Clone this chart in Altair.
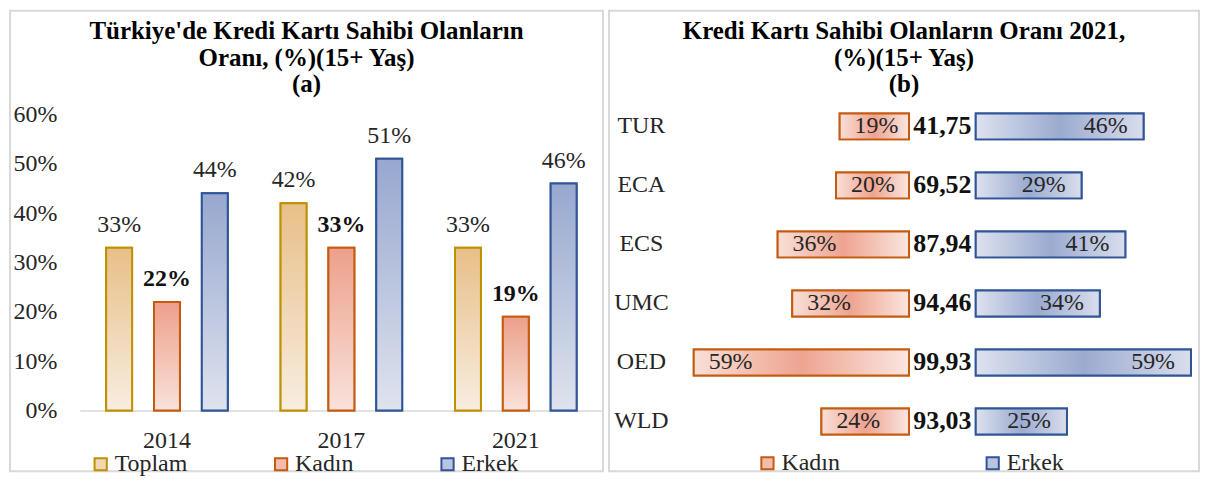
import altair as alt
import pandas as pd

# ---------------- data: panel (a) ----------------
years = ["2014", "2017", "2021"]
series_a = ["Toplam", "Kadın", "Erkek"]
toplam = [0.33, 0.42, 0.33]
kadin = [0.22, 0.33, 0.19]
erkek = [0.44, 0.51, 0.46]
y_ticks = [0, 0.1, 0.2, 0.3, 0.4, 0.5, 0.6]
title_a = ["Türkiye'de Kredi Kartı Sahibi Olanların", "Oranı, (%)(15+ Yaş)", "(a)"]

# ---------------- data: panel (b) ----------------
regions = ["TUR", "ECA", "ECS", "UMC", "OED", "WLD"]
series_b = ["Kadın", "Erkek"]
kadin_b = [19, 20, 36, 32, 59, 24]
erkek_b = [46, 29, 41, 34, 59, 25]
center_b = ["41,75", "69,52", "87,94", "94,46", "99,93", "93,03"]
title_b = ["Kredi Kartı Sahibi Olanların Oranı 2021,", "(%)(15+ Yaş)", "(b)"]

# ---------------- tables ----------------
rows_a = []
for i, y in enumerate(years):
    for s, vals in zip(series_a, [toplam, kadin, erkek]):
        rows_a.append({"year": y, "seri": s, "val": vals[i]})
df_a = pd.DataFrame(rows_a)

rows_b = []
for i, r in enumerate(regions):
    rows_b.append({"region": r, "cins": "Kadın", "value": kadin_b[i]})
    rows_b.append({"region": r, "cins": "Erkek", "value": erkek_b[i]})
df_b = pd.DataFrame(rows_b)
df_c = pd.DataFrame({"region": regions, "center": center_b})

# ---------------- style ----------------
FONT = "Liberation Serif"
TXT = "#262626"
W_A, W_B, H = 595, 592, 462
FS = 24

stroke_a = ["#BF9000", "#C55A11", "#2F5597"]
mid_a = ["#F0D6B2", "#F3BDAE", "#BAC4DF"]
grad_top = ["#E8BF88", "#EDA08A", "#97A7CF"]
grad_bot = ["#F8EDE0", "#F9E2DB", "#DFE3EE"]


def vgrad(top, bot):
    return alt.LinearGradient(
        gradient="linear", x1=0, y1=0, x2=0, y2=1,
        stops=[alt.GradientStop(color=top, offset=0), alt.GradientStop(color=bot, offset=1)],
    )


def hgrad(c0, c1, c2):
    return alt.LinearGradient(
        gradient="linear", x1=0, y1=0, x2=1, y2=0,
        stops=[alt.GradientStop(color=c0, offset=0), alt.GradientStop(color=c1, offset=0.5),
               alt.GradientStop(color=c2, offset=1)],
    )


def panel_title(lines):
    return alt.Title(text=lines, font=FONT, fontSize=25, fontWeight="bold", color="#000000",
                     anchor="middle", frame="group", orient="top", offset=-87, lineHeight=27)


# ---------------- panel (a) ----------------
AX0 = 401  # pixel row of the 0% baseline inside the panel
x_a = alt.X(
    "year:N", sort=years,
    scale=alt.Scale(domain=years, range=[70, 595], paddingInner=0, paddingOuter=0),
    axis=alt.Axis(title=None, orient="bottom", offset=-(H - AX0), labelAngle=0, ticks=False,
                  domainColor="#D9D9D9", domainWidth=1.5, labelPadding=18, labelFont=FONT,
                  labelFontSize=FS, labelColor=TXT, grid=False),
)
xo_a = alt.XOffset("seri:N", sort=series_a,
                   scale=alt.Scale(domain=series_a, paddingInner=0.458, paddingOuter=0.552))
y_a = alt.Y(
    "val:Q",
    scale=alt.Scale(domain=[0, 0.6], range=[AX0, 104], nice=False, zero=True),
    axis=alt.Axis(title=None, values=y_ticks, format=".0%", offset=-53, labelPadding=6,
                  ticks=False, domain=False, grid=False, labelFont=FONT, labelFontSize=FS,
                  labelColor=TXT),
)

leg_a = alt.Legend(title=None, orient="none", legendX=79, legendY=443, direction="horizontal",
                   symbolType="square", symbolSize=150, symbolStrokeWidth=2, labelFont=FONT,
                   labelFontSize=FS, labelColor=TXT, columnPadding=82, labelOffset=2)

base_a = alt.Chart(df_a)
layers_a = [
    base_a.mark_bar(strokeWidth=2).encode(
        x=x_a, xOffset=xo_a, y=y_a,
        fill=alt.Fill("seri:N", scale=alt.Scale(domain=series_a, range=mid_a), legend=leg_a),
        stroke=alt.Stroke("seri:N", scale=alt.Scale(domain=series_a, range=stroke_a), legend=leg_a),
    )
]
for s, t, b, sc in zip(series_a, grad_top, grad_bot, stroke_a):
    layers_a.append(
        base_a.transform_filter(alt.datum.seri == s)
        .mark_bar(fill=vgrad(t, b), stroke=sc, strokeWidth=2)
        .encode(x=x_a, xOffset=xo_a, y=y_a)
    )
layers_a.append(
    base_a.transform_filter(alt.datum.seri != "Kadın")
    .mark_text(font=FONT, fontSize=FS, color=TXT, baseline="alphabetic", dy=-16)
    .encode(x=x_a, xOffset=xo_a, y=y_a, text=alt.Text("val:Q", format=".0%"))
)
layers_a.append(
    base_a.transform_filter(alt.datum.seri == "Kadın")
    .mark_text(font=FONT, fontSize=FS, fontWeight="bold", color="#111111", baseline="alphabetic", dy=-16)
    .encode(x=x_a, xOffset=xo_a, y=y_a, text=alt.Text("val:Q", format=".0%"))
)

chart_a = alt.layer(*layers_a).properties(width=W_A, height=H, title=panel_title(title_a))

# ---------------- panel (b) ----------------
PXU = 3.66                      # pixels per percentage point
K_END = 301                     # pixel where the Kadın bars end
GAP = 67 / PXU                  # gap (in data units) between the two bar groups
xs_b = alt.Scale(domain=[-K_END / PXU, (W_B - K_END) / PXU], nice=False, zero=False)
y_b = alt.Y(
    "region:N", sort=regions,
    scale=alt.Scale(domain=regions, range=[86.4, 441.6], paddingInner=0.56, paddingOuter=0.28),
    axis=alt.Axis(title=None, orient="left", offset=-32, labelAlign="center", labelPadding=0,
                  ticks=False, domain=False, grid=False, labelFont=FONT, labelFontSize=FS,
                  labelColor=TXT),
)
leg_b = alt.Legend(title=None, orient="none", legendX=147, legendY=442, direction="horizontal",
                   symbolType="square", symbolSize=150, symbolStrokeWidth=2, labelFont=FONT,
                   labelFontSize=FS, labelColor=TXT, columnPadding=141, labelOffset=2)

base_b = alt.Chart(df_b).transform_calculate(
    x0=f"datum.cins == 'Kadın' ? -datum.value : {GAP}",
    x1=f"datum.cins == 'Kadın' ? 0 : {GAP} + datum.value",
    label="datum.value + '%'",
)
x0_b = alt.X("x0:Q", scale=xs_b, axis=None)
x1_b = alt.X("x1:Q", scale=xs_b, axis=None)
layers_b = [
    base_b.mark_bar(strokeWidth=2).encode(
        x=x0_b, x2="x1:Q", y=y_b,
        fill=alt.Fill("cins:N", scale=alt.Scale(domain=series_b, range=["#F3BDAE", "#BAC4DF"]), legend=leg_b),
        stroke=alt.Stroke("cins:N", scale=alt.Scale(domain=series_b, range=["#C55A11", "#2F5597"]), legend=leg_b),
    ),
    base_b.transform_filter(alt.datum.cins == "Kadın")
    .mark_bar(fill=hgrad("#F9DFD7", "#EEA490", "#FAE6E0"), stroke="#C55A11", strokeWidth=2)
    .encode(x=x0_b, x2="x1:Q", y=y_b),
    base_b.transform_filter(alt.datum.cins == "Erkek")
    .mark_bar(fill=hgrad("#DDE2EE", "#9BAAD0", "#D9DEEC"), stroke="#2F5597", strokeWidth=2)
    .encode(x=x0_b, x2="x1:Q", y=y_b),
    base_b.transform_filter(alt.datum.cins == "Kadın")
    .mark_text(font=FONT, fontSize=FS, color=TXT, align="left", baseline="middle", dx=15)
    .encode(x=x0_b, y=y_b, text="label:N"),
    base_b.transform_filter(alt.datum.cins == "Erkek")
    .mark_text(font=FONT, fontSize=FS, color=TXT, align="right", baseline="middle", dx=-16)
    .encode(x=x1_b, y=y_b, text="label:N"),
    alt.Chart(df_c).transform_calculate(mid=f"{GAP / 2}")
    .mark_text(font=FONT, fontSize=26, fontWeight="bold", color="#111111", align="center", baseline="middle")
    .encode(x=alt.X("mid:Q", scale=xs_b, axis=None), y=y_b, text="center:N"),
]

chart_b = alt.layer(*layers_b).properties(width=W_B, height=H, title=panel_title(title_b))

chart = (
    alt.hconcat(chart_a, chart_b, spacing=4)
    .resolve_scale(fill="independent", stroke="independent", x="independent", y="independent",
                   xOffset="independent")
    .resolve_legend(fill="independent", stroke="independent")
    .properties(padding={"left": 1, "top": 1, "right": 1, "bottom": 1}, background="white")
    .configure_view(stroke="#D9D9D9", strokeWidth=2)
)

chart.save("out.html", embed_options={"renderer": "svg", "actions": False})
